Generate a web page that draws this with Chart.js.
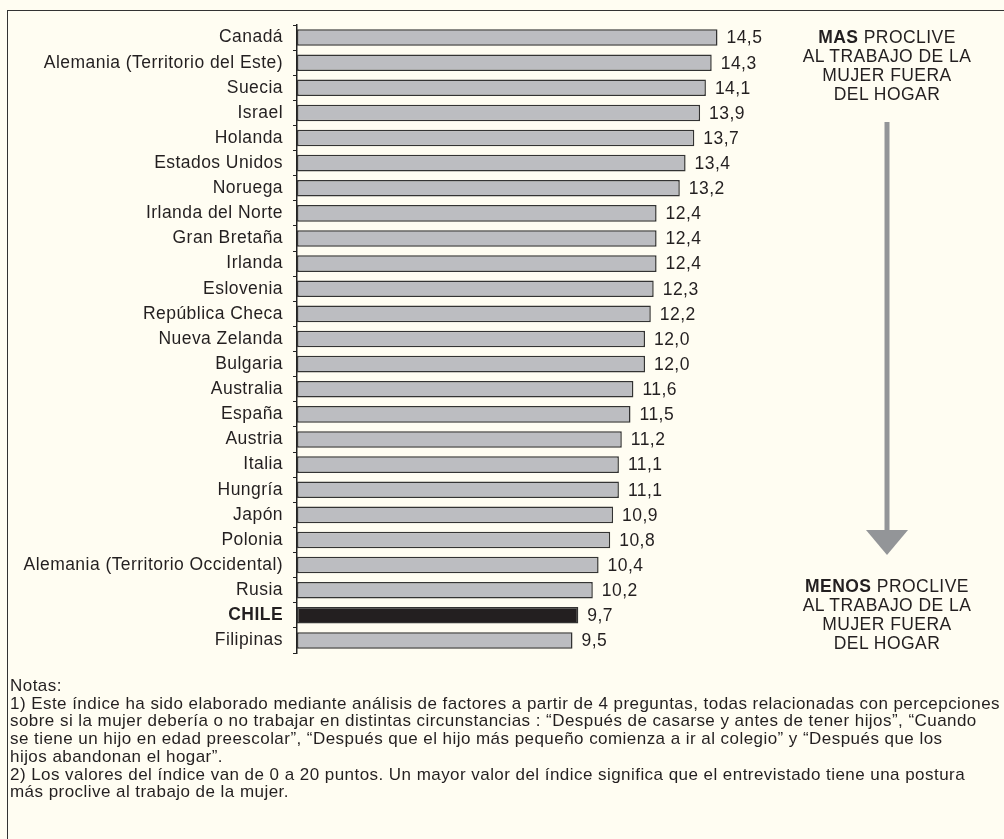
<!DOCTYPE html>
<html>
<head>
<meta charset="utf-8">
<script src="https://cdn.jsdelivr.net/npm/chart.js@4/dist/chart.umd.min.js"></script>
<style>
  html, body { margin: 0; padding: 0; background: #fffdf2; }
  body { width: 1004px; height: 839px; position: relative; overflow: hidden;
         font-family: "Liberation Sans", Arial, sans-serif; color: #231f20; }
  #frame { position: absolute; left: 7px; top: 10px; width: 1100px; height: 900px;
           border-left: 1.5px solid #333; border-top: 1.5px solid #333; }
  #wrap { position: absolute; left: 0; top: 0; width: 1004px; height: 680px; }
  .side { position: absolute; left: 767px; width: 240px; text-align: center;
          font-size: 17.5px; line-height: 19px; letter-spacing: 0.45px; }
  #notes { position: absolute; left: 10px; top: 677px; font-size: 17px; line-height: 17.7px;
           letter-spacing: 0.45px; white-space: nowrap; }
</style>
</head>
<body>
<div id="frame"></div>
<div id="wrap"><canvas id="myChart"></canvas></div>
<div class="side" style="top:28px"><b>MAS</b> PROCLIVE<br>AL TRABAJO DE LA<br>MUJER FUERA<br>DEL HOGAR</div>
<div class="side" style="top:577px"><b>MENOS</b> PROCLIVE<br>AL TRABAJO DE LA<br>MUJER FUERA<br>DEL HOGAR</div>
<div id="notes">Notas:<br>
1) Este índice ha sido elaborado mediante análisis de factores a partir de 4 preguntas, todas relacionadas con percepciones<br>
sobre si la mujer debería o no trabajar en distintas circunstancias : “Después de casarse y antes de tener hijos”, “Cuando<br>
se tiene un hijo en edad preescolar”, “Después que el hijo más pequeño comienza a ir al colegio” y “Después que los<br>
hijos abandonan el hogar”.<br>
2) Los valores del índice van de 0 a 20 puntos. Un mayor valor del índice significa que el entrevistado tiene una postura<br>
más proclive al trabajo de la mujer.</div>
<script>
const countries = [
    'Canadá', 'Alemania (Territorio del Este)', 'Suecia', 'Israel', 'Holanda',
    'Estados Unidos', 'Noruega', 'Irlanda del Norte', 'Gran Bretaña', 'Irlanda',
    'Eslovenia', 'República Checa', 'Nueva Zelanda', 'Bulgaria', 'Australia',
    'España', 'Austria', 'Italia', 'Hungría', 'Japón', 'Polonia',
    'Alemania (Territorio Occidental)', 'Rusia', 'CHILE', 'Filipinas'
];
const indexValues = [
    14.5, 14.3, 14.1, 13.9, 13.7, 13.4, 13.2, 12.4, 12.4, 12.4,
    12.3, 12.2, 12.0, 12.0, 11.6, 11.5, 11.2, 11.1, 11.1, 10.9,
    10.8, 10.4, 10.2, 9.7, 9.5
];
const highlight = 'CHILE';

// the original type is a bit wider than Arial
const spacing = {
    id: 'spacing',
    beforeDraw(chart) {
        chart.ctx.letterSpacing = '0.45px';
    }
};

const valueLabels = {
    id: 'valueLabels',
    afterDatasetsDraw(chart) {
        const ctx = chart.ctx;
        const meta = chart.getDatasetMeta(0);
        ctx.save();
        ctx.letterSpacing = '0.45px';
        ctx.font = '17.5px "Liberation Sans", Arial, sans-serif';
        ctx.fillStyle = '#231f20';
        ctx.textBaseline = 'middle';
        meta.data.forEach((bar, i) => {
            ctx.fillText(indexValues[i].toFixed(1).replace('.', ','), bar.x + 9, bar.y + 1);
        });
        ctx.restore();
    }
};

// grey arrow between the two captions
const arrow = {
    id: 'arrow',
    afterDraw(chart) {
        const ctx = chart.ctx;
        ctx.save();
        ctx.strokeStyle = '#939598';
        ctx.fillStyle = '#939598';
        ctx.lineWidth = 5;
        ctx.beginPath();
        ctx.moveTo(887, 122);
        ctx.lineTo(887, 532);
        ctx.stroke();
        ctx.beginPath();
        ctx.moveTo(866, 530);
        ctx.lineTo(908, 530);
        ctx.lineTo(887, 555);
        ctx.closePath();
        ctx.fill();
        ctx.restore();
    }
};

const config = {
    type: 'bar',
    data: {
        labels: countries,
        datasets: [{
            data: indexValues,
            backgroundColor: countries.map(c => c === highlight ? '#231f20' : '#bcbdc1'),
            borderColor: '#333333',
            borderWidth: 1.5,
            borderSkipped: false,
            barPercentage: 0.66,
            categoryPercentage: 1
        }]
    },
    options: {
        indexAxis: 'y',
        responsive: true,
        maintainAspectRatio: false,
        animation: false,
        devicePixelRatio: 1,
        layout: { padding: { left: 10, right: 243, top: 25, bottom: 27 } },
        plugins: {
            legend: { display: false },
            tooltip: { enabled: false }
        },
        scales: {
            x: { display: false, min: 0, max: 16 },
            y: {
                afterFit: scale => { scale.width = 287; },
                border: { display: true, color: '#222', width: 1.5 },
                grid: { drawOnChartArea: false, drawTicks: true, tickLength: 4, color: '#222', offset: true },
                ticks: {
                    padding: 10,
                    color: '#231f20',
                    font: ctx => ({
                        family: '"Liberation Sans", Arial, sans-serif',
                        size: 17.5,
                        weight: countries[ctx.index] === highlight ? 'bold' : 'normal'
                    })
                }
            }
        }
    },
    plugins: [spacing, valueLabels, arrow]
};

myChart = new Chart(document.getElementById('myChart'), config);
</script>
</body>
</html>
